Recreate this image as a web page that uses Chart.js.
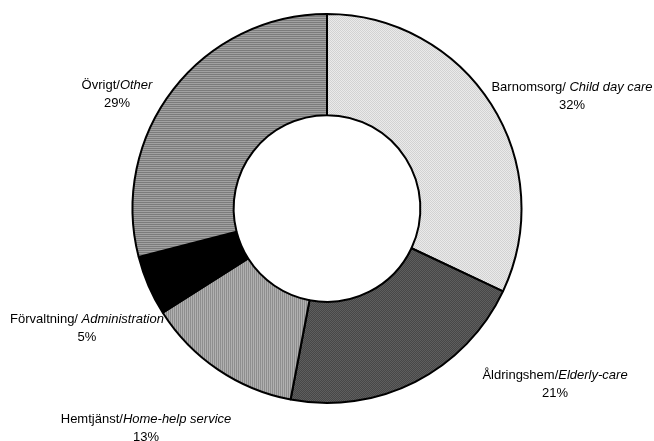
<!DOCTYPE html>
<html>
<head>
<meta charset="utf-8">
<script src="https://cdn.jsdelivr.net/npm/chart.js@4/dist/chart.umd.min.js"></script>
<style>
html,body{margin:0;padding:0;background:#fff;}
#wrap{width:654px;height:441px;}
</style>
</head>
<body>
<div id="wrap"><canvas id="c" width="654" height="441"></canvas></div>
<script>
const namesSv=["Barnomsorg/","Åldringshem/","Hemtjänst/","Förvaltning/","Övrigt/"];
const namesEn=["Child day care","Elderly-care","Home-help service","Administration","Other"];
const spaceAfterSlash=[true,false,false,true,false];
const shares=[32,21,13,5,29];

// label anchors, offset from the doughnut centre (layout only)
const labelOffsets=[[245,-112],[228,176],[-181,220],[-240,120],[-210,-114]];

function pattern(w,h,draw){
    const c=document.createElement("canvas");c.width=w;c.height=h;
    const g=c.getContext("2d");draw(g);
    return g.createPattern(c,"repeat");
}
const fills=[
    pattern(2,2,g=>{g.fillStyle="#eaeaea";g.fillRect(0,0,2,2);g.fillStyle="#d2d2d2";g.fillRect(0,0,1,1);g.fillRect(1,1,1,1);}),
    pattern(2,2,g=>{g.fillStyle="#474747";g.fillRect(0,0,2,2);g.fillStyle="#5e5e5e";g.fillRect(0,0,1,1);g.fillRect(1,1,1,1);}),
    pattern(2,1,g=>{g.fillStyle="#b0b0b0";g.fillRect(0,0,2,1);g.fillStyle="#8e8e8e";g.fillRect(0,0,1,1);}),
    "#000000",
    pattern(1,2,g=>{g.fillStyle="#a2a2a2";g.fillRect(0,0,1,2);g.fillStyle="#7c7c7c";g.fillRect(0,0,1,1);})
];

const labelPlugin={
    id:"sliceLabels",
    afterDraw(chart){
        const ctx=chart.ctx;
        const arc=chart.getDatasetMeta(0).data[0];
        const cx=arc.x,cy=arc.y;
        ctx.save();
        ctx.fillStyle="#000";
        ctx.textBaseline="middle";
        shares.forEach((v,i)=>{
            const x=cx+labelOffsets[i][0],y=cy+labelOffsets[i][1];
            const f1="13px 'Liberation Sans', Arial, sans-serif";
            const f2="italic 13px 'Liberation Sans', Arial, sans-serif";
            const a=namesSv[i]+(spaceAfterSlash[i]?" ":"");
            ctx.font=f1;const w1=ctx.measureText(a).width;
            ctx.font=f2;const w2=ctx.measureText(namesEn[i]).width;
            const x0=x-(w1+w2)/2;
            ctx.textAlign="left";
            ctx.font=f1;ctx.fillText(a,x0,y-9);
            ctx.font=f2;ctx.fillText(namesEn[i],x0+w1,y-9);
            ctx.font=f1;ctx.textAlign="center";
            ctx.fillText(v+"%",x,y+9);
        });
        ctx.restore();
    }
};

new Chart(document.getElementById("c"),{
    type:"doughnut",
    data:{
        labels:namesSv.map((s,i)=>s+namesEn[i]),
        datasets:[{data:shares,backgroundColor:fills,borderColor:"#000",borderWidth:2,borderAlign:"center"}]
    },
    options:{
        responsive:false,
        animation:false,
        cutout:"48%",
        layout:{padding:{top:13,bottom:37,left:0,right:0}},
        plugins:{legend:{display:false},tooltip:{enabled:false}}
    },
    plugins:[labelPlugin]
});
</script>
</body>
</html>
